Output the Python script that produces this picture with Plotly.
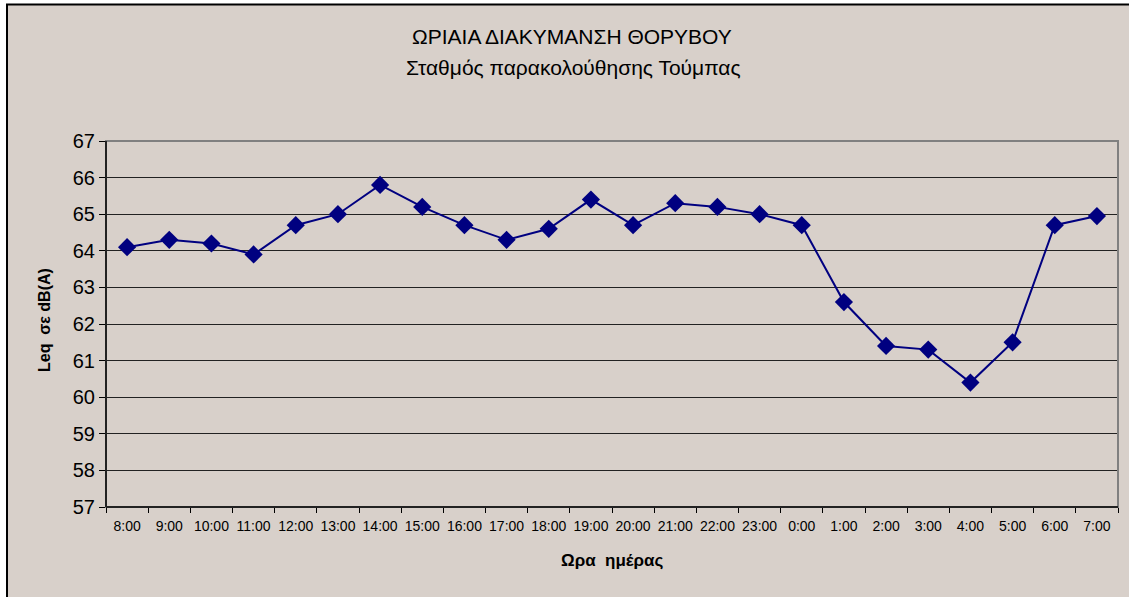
import plotly.graph_objects as go

hours = ["8:00", "9:00", "10:00", "11:00", "12:00", "13:00", "14:00", "15:00",
         "16:00", "17:00", "18:00", "19:00", "20:00", "21:00", "22:00", "23:00",
         "0:00", "1:00", "2:00", "3:00", "4:00", "5:00", "6:00", "7:00"]
leq = [64.1, 64.3, 64.2, 63.9, 64.7, 65.0, 65.8, 65.2,
       64.7, 64.3, 64.6, 65.4, 64.7, 65.3, 65.2, 65.0,
       64.7, 62.6, 61.4, 61.3, 60.4, 61.5, 64.7, 64.95]
y_ticks = [57, 58, 59, 60, 61, 62, 63, 64, 65, 66, 67]

W, H = 1129, 597
L, R, T, B = 106, 11, 141, 90
PW, PH = W - L - R, H - T - B


def px(x):
    return (x - L) / PW


def py(y):
    return (H - B - y) / PH


FONT = "Liberation Sans, Arial, sans-serif"
NAVY = "#000080"


def label(text, x, y, size, angle=0):
    return dict(text=text, xref="paper", yref="paper", x=px(x), y=py(y),
                xanchor="center", yanchor="middle", showarrow=False,
                textangle=angle, font=dict(size=size, family=FONT, color="black"))


fig = go.Figure()
fig.add_trace(go.Scatter(
    x=hours, y=leq, mode="lines+markers",
    line=dict(color=NAVY, width=2),
    marker=dict(symbol="diamond", size=14, color=NAVY),
    cliponaxis=False, showlegend=False,
))

fig.update_layout(
    width=W, height=H,
    margin=dict(l=L, r=R, t=T, b=B, autoexpand=False),
    paper_bgcolor="white",
    plot_bgcolor="#C0C0C0",
    font=dict(family=FONT, color="black"),
    shapes=[
        dict(type="rect", xref="paper", yref="paper", layer="below",
             x0=px(7), x1=px(1145), y0=py(620), y1=py(4.5),
             fillcolor="#D8D0CA", line=dict(color="black", width=2)),
        dict(type="rect", xref="paper", yref="paper", layer="above",
             x0=0, x1=1, y0=0, y1=1,
             line=dict(color="#808080", width=2)),
        dict(type="line", xref="paper", yref="paper", layer="above",
             x0=0, x1=0, y0=0, y1=1, line=dict(color="#222222", width=2)),
        dict(type="line", xref="paper", yref="paper", layer="above",
             x0=0, x1=1, y0=0, y1=0, line=dict(color="#222222", width=2)),
    ],
    annotations=[
        label("ΩΡΙΑΙΑ ΔΙΑΚΥΜΑΝΣΗ ΘΟΡΥΒΟΥ", 572, 37, 21),
        label("Σταθμός παρακολούθησης Τούμπας", 573, 68, 21),
        label("<b>Ωρα  ημέρας</b>", 612, 560, 17),
        label("<b>Leq  σε dB(A)</b>", 44, 320, 16, angle=-90),
    ],
    xaxis=dict(
        type="category", categoryorder="array", categoryarray=hours,
        tickson="boundaries", ticks="outside", ticklen=5, tickcolor="black",
        tickangle=0, automargin=False, ticklabelstandoff=9,
        tickfont=dict(size=14, family=FONT, color="black"),
        showgrid=False, showline=False, zeroline=False,
        range=[-0.5, len(hours) - 0.5],
    ),
    yaxis=dict(
        range=[57, 67], tickvals=y_ticks, ticktext=[str(v) for v in y_ticks],
        ticks="outside", ticklen=6, tickcolor="black", automargin=False,
        tickfont=dict(size=20, family=FONT, color="black"),
        showgrid=True, gridcolor="#222222", gridwidth=1,
        showline=False, zeroline=False,
    ),
)

fig.write_html("out.html", config={"displayModeBar": False},
               post_script="document.body.style.margin='0';")
